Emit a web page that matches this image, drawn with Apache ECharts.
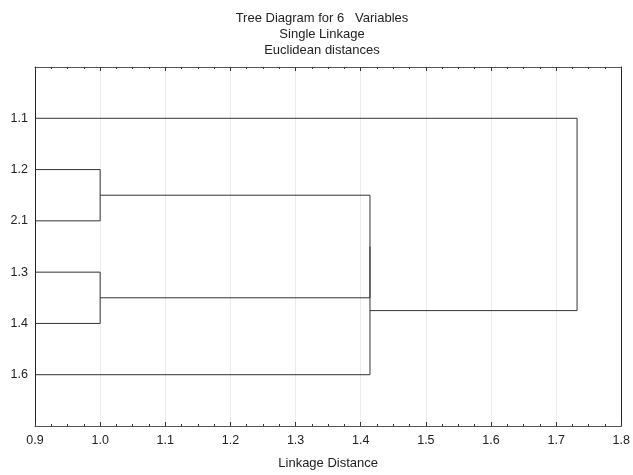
<!DOCTYPE html>
<html>
<head>
<meta charset="utf-8">
<script src="https://cdn.jsdelivr.net/npm/echarts@6/dist/echarts.min.js"></script>
<style>
html,body{margin:0;padding:0;background:#fff;}
#chart{width:633px;height:475px;}
</style>
</head>
<body>
<div id="chart"></div>
<script>
// Leaves (top to bottom) of the dendrogram
const leaves = ['1.1', '1.2', '2.1', '1.3', '1.4', '1.6'];
// Linkage steps: node ids 0..5 are leaves, new clusters get ids 6, 7, ...
const mergeA = [1, 3, 6, 8, 0];
const mergeB = [2, 4, 7, 5, 9];
const mergeDist = [1.0, 1.0, 1.4142, 1.4142, 1.7321];
// x-axis ticks
const xMin = 0.9, xMax = 1.8, xStep = 0.1;

const nodeX = leaves.map(() => xMin);
const nodeY = leaves.map((_, i) => i);
const series = [];
for (let k = 0; k < mergeDist.length; k++) {
  const a = mergeA[k], b = mergeB[k], h = mergeDist[k];
  series.push({
    type: 'line',
    data: [[nodeX[a], nodeY[a]], [h, nodeY[a]], [h, nodeY[b]], [nodeX[b], nodeY[b]]],
    showSymbol: false,
    symbol: 'none',
    lineStyle: { color: '#333', width: 1 },
    silent: true,
    animation: false
  });
  nodeX.push(h);
  nodeY.push((nodeY[a] + nodeY[b]) / 2);
}

const tickFont = { fontFamily: 'Liberation Sans, Arial, sans-serif', fontSize: 12.5, color: '#222' };
const axisLineStyle = { color: '#555', width: 1 };

const chart = echarts.init(document.getElementById('chart'), null, { renderer: 'canvas' });
chart.setOption({
  animation: false,
  backgroundColor: '#fff',
  title: {
    text: 'Tree Diagram for 6   Variables\nSingle Linkage\nEuclidean distances',
    left: 322,
    top: 10,
    padding: 0,
    textAlign: 'center',
    textStyle: { fontFamily: 'Liberation Sans, Arial, sans-serif', fontSize: 13, fontWeight: 'normal', color: '#222', lineHeight: 16 }
  },
  grid: { left: 35, right: 8, top: 67, bottom: 45, containLabel: false },
  xAxis: [
    {
      type: 'value', min: xMin, max: xMax, interval: xStep, position: 'bottom',
      name: 'Linkage Distance', nameLocation: 'middle', nameGap: 31,
      nameTextStyle: { fontFamily: 'Liberation Sans, Arial, sans-serif', fontSize: 13, color: '#222' },
      axisLine: { show: true, onZero: false, lineStyle: axisLineStyle },
      axisTick: { show: true, inside: true, length: 4, lineStyle: { color: '#333' } },
      minorTick: { show: true, splitNumber: 4, length: 2, lineStyle: { color: '#333' } },
      splitLine: { show: true, lineStyle: { color: '#ececec', width: 1 } },
      axisLabel: Object.assign({ margin: 8, formatter: v => v.toFixed(1) }, tickFont)
    },
    {
      type: 'value', min: xMin, max: xMax, interval: xStep, position: 'top',
      axisLine: { show: true, onZero: false, lineStyle: axisLineStyle },
      axisTick: { show: true, inside: true, length: 4, lineStyle: { color: '#333' } },
      minorTick: { show: true, splitNumber: 4, length: 2, lineStyle: { color: '#333' } },
      splitLine: { show: false },
      axisLabel: { show: false }
    }
  ],
  yAxis: [
    {
      type: 'value', min: -1, max: 6, interval: 1, inverse: true, position: 'left',
      axisLine: { show: true, onZero: false, lineStyle: { color: '#222', width: 1 } },
      axisTick: { show: false },
      splitLine: { show: false },
      axisLabel: Object.assign({ margin: 7, formatter: v => (leaves[v] !== undefined ? leaves[v] : '') }, tickFont)
    },
    {
      type: 'value', min: -1, max: 6, interval: 1, inverse: true, position: 'right',
      axisLine: { show: true, onZero: false, lineStyle: { color: '#222', width: 1 } },
      axisTick: { show: false },
      splitLine: { show: false },
      axisLabel: { show: false }
    }
  ],
  series: series
});
</script>
</body>
</html>
